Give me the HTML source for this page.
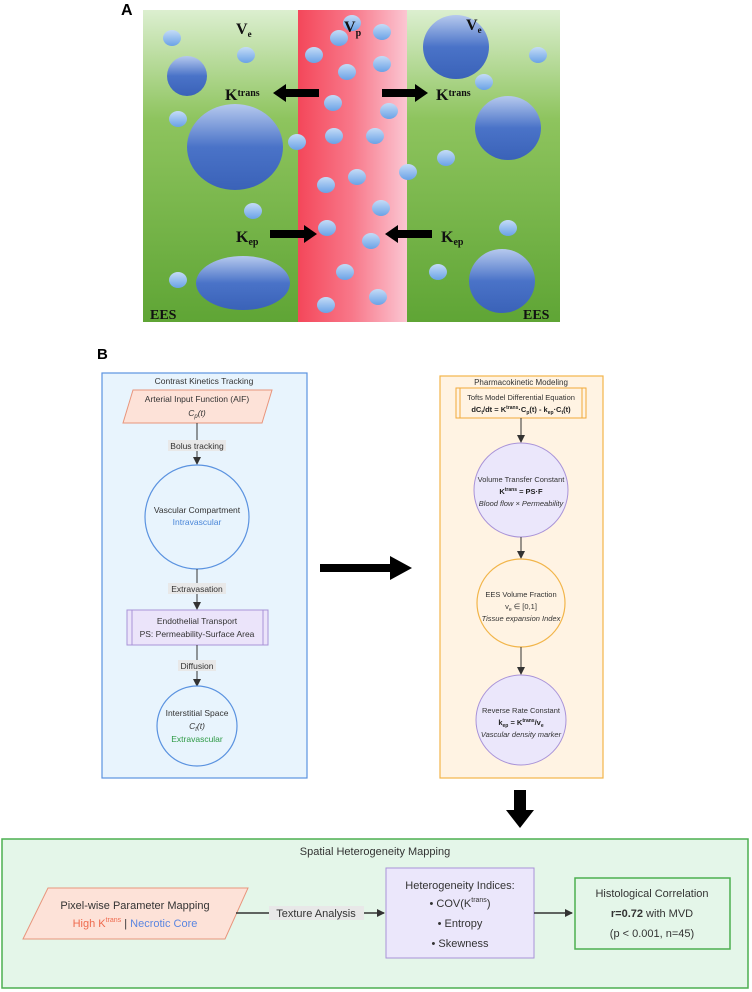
<!DOCTYPE html>
<html><head><meta charset="utf-8"><style>
html,body{margin:0;padding:0;background:#fff;}
svg{display:block;font-family:"Liberation Sans",sans-serif;}
</style></head><body>
<svg width="752" height="992" viewBox="0 0 752 992" xmlns="http://www.w3.org/2000/svg">
<defs>
<linearGradient id="grn" x1="0" y1="0" x2="0" y2="1">
<stop offset="0" stop-color="#dcefd0"/><stop offset="0.35" stop-color="#8ec45e"/><stop offset="1" stop-color="#5fa535"/></linearGradient>
<linearGradient id="red" x1="0" y1="0" x2="1" y2="0">
<stop offset="0" stop-color="#f4475a"/><stop offset="0.5" stop-color="#f8788a"/><stop offset="1" stop-color="#fbc6d2"/></linearGradient>
<linearGradient id="bb" x1="0" y1="0" x2="0" y2="1">
<stop offset="0" stop-color="#b6c9ee"/><stop offset="0.5" stop-color="#4a73c8"/><stop offset="1" stop-color="#3a62b8"/></linearGradient>
<linearGradient id="sb" x1="0" y1="0" x2="0" y2="1">
<stop offset="0" stop-color="#c5dcf7"/><stop offset="1" stop-color="#6aa2e6"/></linearGradient>
<marker id="ah" markerWidth="8" markerHeight="8" refX="7" refY="4" orient="auto" markerUnits="userSpaceOnUse">
<path d="M0,0 L8,4 L0,8 z" fill="#333"/></marker>
</defs>

<!-- Panel A -->
<text x="121" y="15" font-size="16" font-weight="bold">A</text>
<rect x="143" y="10" width="417" height="312" fill="url(#grn)"/>
<rect x="298" y="10" width="109" height="312" fill="url(#red)"/>
<g fill="url(#bb)">
<circle cx="187" cy="76" r="20"/>
<ellipse cx="235" cy="147" rx="48" ry="43"/>
<ellipse cx="243" cy="283" rx="47" ry="27"/>
<ellipse cx="456" cy="47" rx="33" ry="32"/>
<ellipse cx="508" cy="128" rx="33" ry="32"/>
<ellipse cx="502" cy="281" rx="33" ry="32"/>
</g>
<g fill="url(#sb)">
<ellipse cx="172" cy="38" rx="9" ry="8"/><ellipse cx="246" cy="55" rx="9" ry="8"/>
<ellipse cx="178" cy="119" rx="9" ry="8"/><ellipse cx="297" cy="142" rx="9" ry="8"/>
<ellipse cx="253" cy="211" rx="9" ry="8"/><ellipse cx="178" cy="280" rx="9" ry="8"/>
<ellipse cx="352" cy="23" rx="9" ry="8"/><ellipse cx="339" cy="38" rx="9" ry="8"/>
<ellipse cx="382" cy="32" rx="9" ry="8"/><ellipse cx="314" cy="55" rx="9" ry="8"/>
<ellipse cx="382" cy="64" rx="9" ry="8"/><ellipse cx="347" cy="72" rx="9" ry="8"/>
<ellipse cx="333" cy="103" rx="9" ry="8"/><ellipse cx="389" cy="111" rx="9" ry="8"/>
<ellipse cx="334" cy="136" rx="9" ry="8"/><ellipse cx="375" cy="136" rx="9" ry="8"/>
<ellipse cx="408" cy="172" rx="9" ry="8"/><ellipse cx="357" cy="177" rx="9" ry="8"/>
<ellipse cx="326" cy="185" rx="9" ry="8"/><ellipse cx="381" cy="208" rx="9" ry="8"/>
<ellipse cx="327" cy="228" rx="9" ry="8"/><ellipse cx="371" cy="241" rx="9" ry="8"/>
<ellipse cx="345" cy="272" rx="9" ry="8"/><ellipse cx="378" cy="297" rx="9" ry="8"/>
<ellipse cx="326" cy="305" rx="9" ry="8"/>
<ellipse cx="538" cy="55" rx="9" ry="8"/><ellipse cx="484" cy="82" rx="9" ry="8"/>
<ellipse cx="446" cy="158" rx="9" ry="8"/><ellipse cx="508" cy="228" rx="9" ry="8"/>
<ellipse cx="438" cy="272" rx="9" ry="8"/>
</g>
<g fill="#000">
<path d="M319,89 L286,89 L286,84 L273,93 L286,102 L286,97 L319,97 z"/>
<path d="M382,89 L415,89 L415,84 L428,93 L415,102 L415,97 L382,97 z"/>
<path d="M270,230 L304,230 L304,225 L317,234 L304,243 L304,238 L270,238 z"/>
<path d="M432,230 L398,230 L398,225 L385,234 L398,243 L398,238 L432,238 z"/>
</g>
<g font-family="Liberation Serif,serif" font-weight="bold" fill="#111">
<text x="236" y="34" font-size="16">V<tspan font-size="9" dy="3">e</tspan></text>
<text x="344" y="32" font-size="16">V<tspan font-size="10" dy="4">p</tspan></text>
<text x="466" y="30" font-size="16">V<tspan font-size="9" dy="3">e</tspan></text>
<text x="225" y="100" font-size="16">K<tspan font-size="10" dy="-4">trans</tspan></text>
<text x="436" y="100" font-size="16">K<tspan font-size="10" dy="-4">trans</tspan></text>
<text x="236" y="242" font-size="16">K<tspan font-size="10" dy="3">ep</tspan></text>
<text x="441" y="242" font-size="16">K<tspan font-size="10" dy="3">ep</tspan></text>
<text x="150" y="319" font-size="14">EES</text>
<text x="523" y="319" font-size="14">EES</text>
</g>

<!-- Panel B -->
<text x="97" y="359" font-size="15" font-weight="bold">B</text>
<rect x="102" y="373" width="205" height="405" fill="#e8f4fd" stroke="#5b93e0" stroke-width="1.2"/>
<text x="204" y="384" font-size="8.5" text-anchor="middle" fill="#333">Contrast Kinetics Tracking</text>
<polygon points="133,390 272,390 262,423 123,423" fill="#fde2d8" stroke="#e8957c"/>
<text x="197" y="402" font-size="8.5" text-anchor="middle" fill="#333">Arterial Input Function (AIF)</text>
<text x="197" y="416" font-size="8.5" text-anchor="middle" fill="#333" font-style="italic">C<tspan font-size="6" dy="2">p</tspan><tspan dy="-2">(t)</tspan></text>
<line x1="197" y1="423" x2="197" y2="464" stroke="#333" marker-end="url(#ah)"/>
<rect x="168" y="440" width="58" height="11" fill="#e8e8e8"/>
<text x="197" y="449" font-size="8.5" text-anchor="middle" fill="#333">Bolus tracking</text>
<circle cx="197" cy="517" r="52" fill="#e8f4fd" stroke="#5b93e0" stroke-width="1.2"/>
<text x="197" y="513" font-size="8.5" text-anchor="middle" fill="#333">Vascular Compartment</text>
<text x="197" y="525" font-size="8.5" text-anchor="middle" fill="#4a86d8">Intravascular</text>
<line x1="197" y1="569" x2="197" y2="609" stroke="#333" marker-end="url(#ah)"/>
<rect x="168" y="583" width="58" height="11" fill="#e8e8e8"/>
<text x="197" y="592" font-size="8.5" text-anchor="middle" fill="#333">Extravasation</text>
<rect x="127" y="610" width="141" height="35" fill="#ebe4fa" stroke="#a993d8"/>
<line x1="132" y1="610" x2="132" y2="645" stroke="#a993d8"/><line x1="263" y1="610" x2="263" y2="645" stroke="#a993d8"/>
<text x="197" y="624" font-size="8.5" text-anchor="middle" fill="#333">Endothelial Transport</text>
<text x="197" y="637" font-size="8.5" text-anchor="middle" fill="#333">PS: Permeability-Surface Area</text>
<line x1="197" y1="645" x2="197" y2="686" stroke="#333" marker-end="url(#ah)"/>
<rect x="178" y="660" width="38" height="11" fill="#e8e8e8"/>
<text x="197" y="669" font-size="8.5" text-anchor="middle" fill="#333">Diffusion</text>
<circle cx="197" cy="726" r="40" fill="#e8f4fd" stroke="#5b93e0" stroke-width="1.2"/>
<text x="197" y="716" font-size="8.5" text-anchor="middle" fill="#333">Interstitial Space</text>
<text x="197" y="729" font-size="8.5" text-anchor="middle" fill="#333" font-style="italic">C<tspan font-size="6" dy="2">t</tspan><tspan dy="-2">(t)</tspan></text>
<text x="197" y="742" font-size="8.5" text-anchor="middle" fill="#2e9a45">Extravascular</text>

<!-- middle arrow -->
<path d="M320,564 L390,564 L390,556 L412,568 L390,580 L390,572 L320,572 z" fill="#000"/>

<!-- right box -->
<rect x="440" y="376" width="163" height="402" fill="#fff3e3" stroke="#f2b54a" stroke-width="1.2"/>
<text x="521" y="385" font-size="8" text-anchor="middle" fill="#333">Pharmacokinetic Modeling</text>
<rect x="456" y="388" width="130" height="30" fill="#fff3e3" stroke="#f2a93a"/>
<line x1="460" y1="388" x2="460" y2="418" stroke="#f2a93a"/><line x1="582" y1="388" x2="582" y2="418" stroke="#f2a93a"/>
<text x="521" y="400" font-size="7.5" text-anchor="middle" fill="#333">Tofts Model Differential Equation</text>
<text x="521" y="412" font-size="7.5" text-anchor="middle" fill="#222" font-weight="bold">dC<tspan font-size="5" dy="2">t</tspan><tspan dy="-2">/dt = K</tspan><tspan font-size="5" dy="-3">trans</tspan><tspan dy="3">·C</tspan><tspan font-size="5" dy="2">p</tspan><tspan dy="-2">(t) - k</tspan><tspan font-size="5" dy="2">ep</tspan><tspan dy="-2">·C</tspan><tspan font-size="5" dy="2">t</tspan><tspan dy="-2">(t)</tspan></text>
<line x1="521" y1="418" x2="521" y2="442" stroke="#333" marker-end="url(#ah)"/>
<circle cx="521" cy="490" r="47" fill="#ebe7fb" stroke="#a993d8"/>
<text x="521" y="482" font-size="7.5" text-anchor="middle" fill="#333">Volume Transfer Constant</text>
<text x="521" y="494" font-size="7.5" text-anchor="middle" fill="#222" font-weight="bold">K<tspan font-size="5" dy="-3">trans</tspan><tspan dy="3"> = PS·F</tspan></text>
<text x="521" y="506" font-size="7.5" text-anchor="middle" fill="#333" font-style="italic">Blood flow × Permeability</text>
<line x1="521" y1="537" x2="521" y2="558" stroke="#333" marker-end="url(#ah)"/>
<circle cx="521" cy="603" r="44" fill="#fff3e3" stroke="#f2b54a" stroke-width="1.2"/>
<text x="521" y="597" font-size="7.5" text-anchor="middle" fill="#333">EES Volume Fraction</text>
<text x="521" y="609" font-size="7.5" text-anchor="middle" fill="#333">v<tspan font-size="5" dy="2">e</tspan><tspan dy="-2"> ∈ [0,1]</tspan></text>
<text x="521" y="621" font-size="7.5" text-anchor="middle" fill="#333" font-style="italic">Tissue expansion Index</text>
<line x1="521" y1="647" x2="521" y2="674" stroke="#333" marker-end="url(#ah)"/>
<circle cx="521" cy="720" r="45" fill="#ebe7fb" stroke="#a993d8"/>
<text x="521" y="713" font-size="7.5" text-anchor="middle" fill="#333">Reverse Rate Constant</text>
<text x="521" y="725" font-size="7.5" text-anchor="middle" fill="#222" font-weight="bold">k<tspan font-size="5" dy="2">ep</tspan><tspan dy="-2"> = K</tspan><tspan font-size="5" dy="-3">trans</tspan><tspan dy="3">/v</tspan><tspan font-size="5" dy="2">e</tspan></text>
<text x="521" y="737" font-size="7.5" text-anchor="middle" fill="#333" font-style="italic">Vascular density marker</text>

<!-- down arrow -->
<path d="M514,790 L526,790 L526,810 L534,810 L520,828 L506,810 L514,810 z" fill="#000"/>

<!-- bottom box -->
<rect x="2" y="839" width="746" height="149" fill="#e4f6e9" stroke="#4caf50" stroke-width="1.5"/>
<text x="375" y="855" font-size="11" text-anchor="middle" fill="#333">Spatial Heterogeneity Mapping</text>
<polygon points="48,888 248,888 225,939 23,939" fill="#fde2d8" stroke="#e8957c"/>
<text x="135" y="909" font-size="11" text-anchor="middle" fill="#333">Pixel-wise Parameter Mapping</text>
<text x="135" y="927" font-size="11" text-anchor="middle"><tspan fill="#ee6a4e">High K</tspan><tspan fill="#ee6a4e" font-size="7" dy="-5">trans</tspan><tspan fill="#333" dy="5"> | </tspan><tspan fill="#5b86e0">Necrotic Core</tspan></text>
<line x1="236" y1="913" x2="384" y2="913" stroke="#333" stroke-width="1.5" marker-end="url(#ah)"/>
<rect x="269" y="906" width="95" height="14" fill="#e8e8e8"/>
<text x="316" y="917" font-size="11" text-anchor="middle" fill="#333">Texture Analysis</text>
<rect x="386" y="868" width="148" height="90" fill="#ebe7fb" stroke="#a993d8"/>
<text x="460" y="889" font-size="11" text-anchor="middle" fill="#333">Heterogeneity Indices:</text>
<text x="460" y="907" font-size="11" text-anchor="middle" fill="#333">• COV(K<tspan font-size="7" dy="-5">trans</tspan><tspan dy="5">)</tspan></text>
<text x="460" y="927" font-size="11" text-anchor="middle" fill="#333">• Entropy</text>
<text x="460" y="947" font-size="11" text-anchor="middle" fill="#333">• Skewness</text>
<line x1="534" y1="913" x2="572" y2="913" stroke="#333" stroke-width="1.5" marker-end="url(#ah)"/>
<rect x="575" y="878" width="155" height="71" fill="#e4f6e9" stroke="#4caf50" stroke-width="1.5"/>
<text x="652" y="897" font-size="11" text-anchor="middle" fill="#333">Histological Correlation</text>
<text x="652" y="917" font-size="11" text-anchor="middle" fill="#333"><tspan font-weight="bold">r=0.72</tspan> with MVD</text>
<text x="652" y="937" font-size="11" text-anchor="middle" fill="#333">(p &lt; 0.001, n=45)</text>
</svg>
</body></html>
